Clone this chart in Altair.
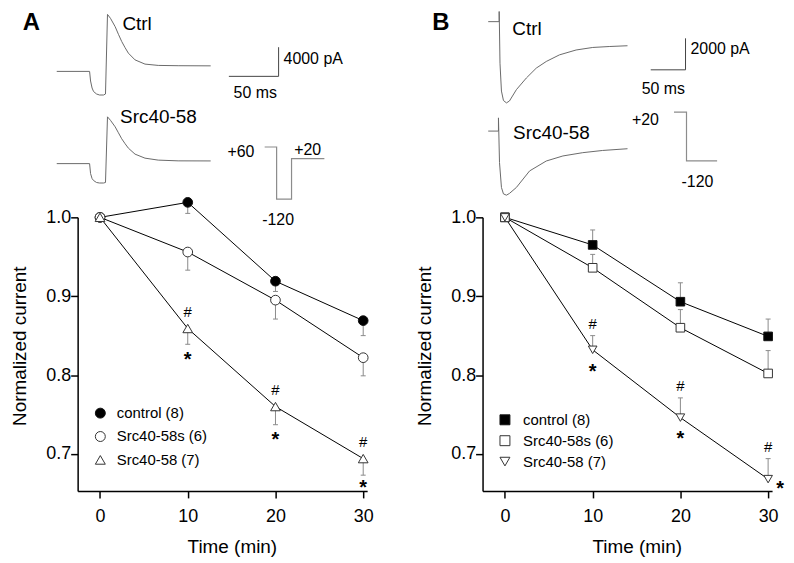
import altair as alt
import pandas as pd

SANS = "Liberation Sans, Arial, Helvetica, sans-serif"

# ---------------- summary data (normalized current) ----------------
times = [0, 10, 20, 30]
series = ["control (8)", "Src40-58s (6)", "Src40-58 (7)"]

a_control = [1.0, 1.019, 0.919, 0.869]
a_control_err = [0.0, 0.014, 0.013, 0.019]
a_scr = [1.0, 0.956, 0.895, 0.822]
a_scr_err = [0.0, 0.023, 0.024, 0.023]
a_src = [1.0, 0.859, 0.760, 0.694]
a_src_err = [0.0, 0.020, 0.023, 0.021]

b_control = [1.0, 0.965, 0.893, 0.849]
b_control_err = [0.0, 0.019, 0.024, 0.022]
b_scr = [1.0, 0.936, 0.860, 0.802]
b_scr_err = [0.0, 0.017, 0.023, 0.029]
b_src = [1.0, 0.832, 0.746, 0.668]
b_src_err = [0.0, 0.018, 0.025, 0.026]

sig_times = [10, 20, 30]

# ---------------- current traces (ms, pA) ----------------
a_ctrl_t = [0, 33, 34, 35.5, 37, 40, 43, 47, 49, 51, 54, 58.7, 62, 65.3, 68.7, 72, 78.7, 88.7, 102, 122, 154.7]
a_ctrl_i = [0, 0, -1320, -2280, -2760, -3100, -3240, -3240, -3100, 7820, 7280, 6140, 5090, 4100, 3250, 2500, 1580, 1000, 820, 780, 760]
a_src_t = [0, 33, 34, 35.5, 37, 40, 43, 47, 49, 51, 54, 58.7, 62, 65.3, 68.7, 72, 78.7, 88.7, 102, 122, 154.7]
a_src_i = [0, 0, -1370, -2050, -2320, -2590, -2660, -2660, -2590, 6420, 5940, 5050, 4230, 3410, 2730, 2120, 1300, 750, 480, 380, 370]

b_ctrl_t = [0, 15.7, 15.7, 16.9, 19.0, 21.9, 26.2, 30.5, 40.5, 54.8, 69.1, 83.4, 102.4, 126.3, 150.2, 173.9, 200.2]
b_ctrl_i = [0, 0, 840, -2640, -4410, -5010, -5160, -5040, -4320, -3580, -2950, -2530, -2110, -1800, -1640, -1580, -1530]
b_src_t = [0, 14.7, 14.7, 16.2, 19.0, 21.9, 26.2, 30.5, 40.5, 59.5, 83.4, 107.3, 135.9, 164.5, 200.2]
b_src_i = [0, 0, 840, -2000, -3580, -3990, -4070, -3960, -3580, -2530, -1900, -1580, -1370, -1230, -1120]

# scale bars (ms, pA) and voltage protocols (ms, mV)
a_bar_t = [173, 223, 223]
a_bar_i = [-680, -680, 3320]
b_bar_t = [233.6, 283.6, 283.6]
b_bar_i = [-3060, -3060, -1060]
a_prot_t = [209, 221, 221, 236, 236, 269]
a_prot_v = [60, 60, -120, -120, 20, 20]
b_prot_t = [267, 285, 285, 329]
b_prot_v = [20, 20, -120, -120]

# inset labels: text, anchor time, anchor value, which scale, align, size
a_labels = ["A", "Ctrl", "4000 pA", "50 ms", "Src40-58", "+60", "+20", "-120"]
a_label_t = [-25.5, 66, 228, 199.5, 63.7, 198.7, 238.7, 222.5]
a_label_v = [5637, 5678, 1037, -3645, 5597, 26.7, 31.2, -210.4]
a_label_on = ["ctrl", "ctrl", "ctrl", "ctrl", "src", "prot", "prot", "prot"]
a_label_align = ["center", "left", "left", "center", "left", "right", "left", "center"]
a_label_size = [24, 19, 16, 16, 19, 16, 16, 16]

b_labels = ["B", "Ctrl", "2000 pA", "50 ms", "Src40-58", "+20", "-120"]
b_label_t = [-68.2, 34.7, 290.7, 251.7, 35.7, 245.4, 300.7]
b_label_v = [-550, -847, -2048, -4576, -531, -15.4, -196.3]
b_label_on = ["ctrl", "ctrl", "ctrl", "ctrl", "src", "prot", "prot"]
b_label_align = ["center", "left", "left", "center", "left", "right", "center"]
b_label_size = [24, 19, 16, 16, 19, 16, 16]

W = 291
H_IN = 207
H_MAIN = 275


def trace_df(t, i):
    return pd.DataFrame({"t": t, "v": i, "i": list(range(len(t)))})


def inset(ctrl_t, ctrl_i, src_t, src_i, bar_t, bar_i, prot_t, prot_v,
          x_dom, ctrl_dom, src_dom, prot_dom, labels, lt, lv, lon, lal, lsz, clip_ctrl):
    xs = alt.Scale(domain=x_dom, nice=False, zero=False)
    scales = {
        "ctrl": alt.Scale(domain=ctrl_dom, nice=False, zero=False),
        "src": alt.Scale(domain=src_dom, nice=False, zero=False),
        "prot": alt.Scale(domain=prot_dom, nice=False, zero=False),
    }

    def enc(scale_key):
        return dict(x=alt.X("t:Q", scale=xs, axis=None),
                    y=alt.Y("v:Q", scale=scales[scale_key], axis=None),
                    order="i:Q")

    layers = [
        alt.Chart(trace_df(ctrl_t, ctrl_i)).mark_line(color="#6a6a6a", strokeWidth=1, clip=clip_ctrl).encode(**enc("ctrl")),
        alt.Chart(trace_df(src_t, src_i)).mark_line(color="#6a6a6a", strokeWidth=1).encode(**enc("src")),
        alt.Chart(trace_df(bar_t, bar_i)).mark_line(color="#444444", strokeWidth=1).encode(**enc("ctrl")),
        alt.Chart(trace_df(prot_t, prot_v)).mark_line(color="#8c8c8c", strokeWidth=1.2).encode(**enc("prot")),
    ]
    for k in range(len(labels)):
        df = pd.DataFrame({"t": [lt[k]], "v": [lv[k]], "label": [labels[k]]})
        is_panel = labels[k] in ("A", "B")
        layers.append(
            alt.Chart(df).mark_text(
                align=lal[k], baseline="alphabetic", font=SANS,
                fontSize=lsz[k], fontWeight="bold" if is_panel else "normal",
                color="black",
            ).encode(x=alt.X("t:Q", scale=xs, axis=None),
                     y=alt.Y("v:Q", scale=scales[lon[k]], axis=None),
                     text="label:N")
        )
    return alt.layer(*layers).resolve_scale(y="independent").properties(width=W, height=H_IN)


def main_panel(means, errs, direction, shapes, fills, msize, legX, legY, rowpad, laboff,
               hash_on, hash_dy, star_on, star_dy, last_star_dx, last_star_dy):
    rows = []
    for s, m, e in zip(series, means, errs):
        for t, mv, ev in zip(times, m, e):
            rows.append({"series": s, "time": t, "mean": mv, "end": mv + direction * ev, "err": ev})
    df = pd.DataFrame(rows)
    df_err = df[df["err"] > 0]
    df_sig = df[(df["series"] == series[2]) & (df["time"].isin(sig_times))]

    xs = alt.Scale(domain=[-2.55, 30.45], nice=False, zero=False)
    ys = alt.Scale(domain=[0.653, 1.0], nice=False, zero=False)
    x_axis = alt.Axis(values=times, title="Time (min)", titleX=155, titleY=61.5,
                      titleBaseline="alphabetic", titleAlign="center", labelPadding=10)
    y_axis = alt.Axis(values=[0.7, 0.8, 0.9, 1.0], format=".1f", title="Normalized current",
                      titleX=-52, titleY=129, titleAngle=270, titleBaseline="alphabetic",
                      titleAlign="center", labelPadding=0)

    def X():
        return alt.X("time:Q", scale=xs, axis=x_axis)

    def Y(f):
        return alt.Y(f + ":Q", scale=ys, axis=y_axis)

    rules = alt.Chart(df_err).mark_rule(color="#8a8a8a", strokeWidth=1).encode(
        x=X(), y=Y("mean"), y2="end:Q")
    caps = alt.Chart(df_err).mark_point(shape="M-1,0L1,0", size=25, color="#8a8a8a",
                                        strokeWidth=1, filled=False, opacity=1).encode(x=X(), y=Y("end"))
    lines = alt.Chart(df).mark_line(color="black", strokeWidth=1).encode(
        x=X(), y=Y("mean"), detail="series:N")
    legend = alt.Legend(title=None, orient="none", legendX=legX, legendY=legY,
                        labelFont=SANS, labelFontSize=15, labelColor="black",
                        symbolSize=100, symbolStrokeWidth=1,
                        rowPadding=rowpad, labelOffset=laboff, padding=0)
    points = alt.Chart(df).mark_point(filled=True, size=msize, strokeWidth=1, opacity=1).encode(
        x=X(), y=Y("mean"),
        shape=alt.Shape("series:N", scale=alt.Scale(domain=series, range=shapes), legend=legend),
        fill=alt.Fill("series:N", scale=alt.Scale(domain=series, range=fills), legend=legend),
        stroke=alt.Stroke("series:N", scale=alt.Scale(domain=series, range=["#111111", "#333333", "#333333"]),
                          legend=legend),
    )
    sig_last = df_sig[df_sig["time"] == 30]
    sig_rest = df_sig[df_sig["time"] != 30]
    hashes = alt.Chart(df_sig).mark_text(text="#", baseline="alphabetic", align="center",
                                         font=SANS, fontSize=15, dy=hash_dy, color="black").encode(
        x=X(), y=Y(hash_on))
    stars = alt.Chart(sig_rest).mark_text(text="*", baseline="alphabetic", align="center",
                                          font=SANS, fontSize=20, fontWeight="bold",
                                          dy=star_dy, color="black").encode(x=X(), y=Y(star_on))
    star_last = alt.Chart(sig_last).mark_text(text="*", baseline="alphabetic", align="center",
                                              font=SANS, fontSize=20, fontWeight="bold",
                                              dx=last_star_dx, dy=last_star_dy, color="black").encode(
        x=X(), y=Y(star_on if last_star_dx == 0 else "mean"))
    return alt.layer(rules, caps, lines, points, hashes, stars, star_last).properties(width=W, height=H_MAIN)


insetA = inset(a_ctrl_t, a_ctrl_i, a_src_t, a_src_i, a_bar_t, a_bar_i, a_prot_t, a_prot_v,
               [21, 312], [-20025, 8231], [-7371, 20885], [-182.9, 528.5],
               a_labels, a_label_t, a_label_v, a_label_on, a_label_align, a_label_size, False)
insetB = inset(b_ctrl_t, b_ctrl_i, b_src_t, b_src_i, b_bar_t, b_bar_i, b_prot_t, b_prot_v,
               [-8.15, 408.0], [-12431, 651], [-5479, 7603], [-282, 309.4],
               b_labels, b_label_t, b_label_v, b_label_on, b_label_align, b_label_size, True)

mainA = main_panel([a_control, a_scr, a_src], [a_control_err, a_scr_err, a_src_err], -1,
                   ["circle", "circle", "triangle-up"], ["black", "white", "white"], 95,
                   15.3, 189.3, 7.5, 9,
                   "mean", -11.7, "end", 21.5, 0, 19)
mainB = main_panel([b_control, b_scr, b_src], [b_control_err, b_scr_err, b_src_err], 1,
                   ["square", "square", "triangle-down"], ["black", "white", "white"], 75,
                   15, 196, 5, 10.7,
                   "end", -6.7, "mean", 28, 12, 16)

chart = (
    alt.concat(insetA, insetB, mainA, mainB, columns=2,
               spacing={"row": 0, "column": 116}, bounds="flush")
    .resolve_scale(x="independent", y="independent", shape="independent",
                   fill="independent", stroke="independent")
    .resolve_legend(shape="independent", fill="independent", stroke="independent")
    .properties(padding={"left": 3, "top": 2, "right": 2, "bottom": 2}, background="white")
    .configure_view(stroke=None)
    .configure_axis(
        labelFont=SANS, labelFontSize=18, labelColor="black",
        titleFont=SANS, titleFontSize=19, titleFontWeight="normal", titleColor="black",
        domainColor="black", domainWidth=1.5, tickColor="black", tickWidth=1.5, tickSize=7,
        grid=False,
    )
)

chart.save("out.html", embed_options={"renderer": "svg", "actions": False})
